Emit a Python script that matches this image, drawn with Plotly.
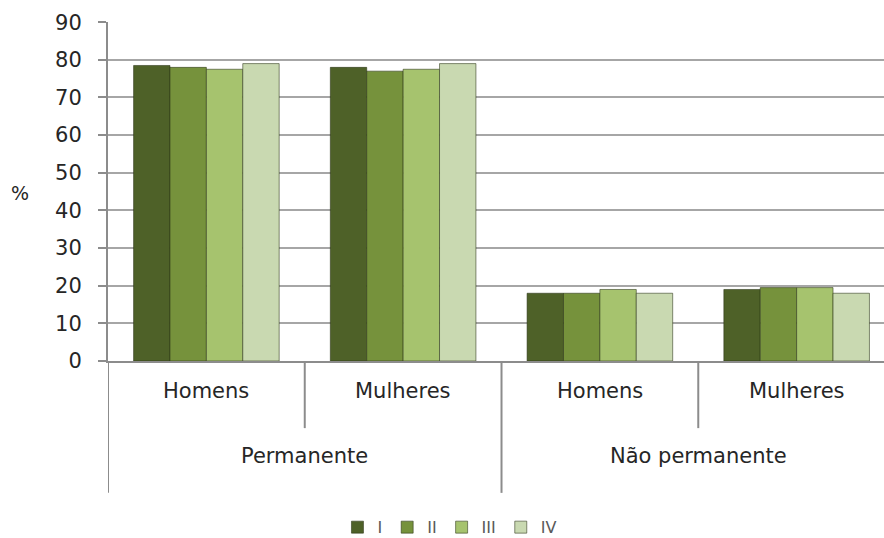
import plotly.graph_objects as go

outer_labels = ["Permanente", "Não permanente"]
inner_labels = ["Homens", "Mulheres", "Homens", "Mulheres"]
series_names = ["I", "II", "III", "IV"]
values_I = [78.5, 78.0, 18.0, 19.0]
values_II = [78.0, 77.0, 18.0, 19.5]
values_III = [77.5, 77.5, 19.0, 19.5]
values_IV = [79.0, 79.0, 18.0, 18.0]
y_ticks = [0, 10, 20, 30, 40, 50, 60, 70, 80, 90]

colors = ["#4e6128", "#76923c", "#a6c36e", "#c9d9b1"]
all_values = [values_I, values_II, values_III, values_IV]
xpos = list(range(len(inner_labels)))

fig = go.Figure()
for name, vals, col in zip(series_names, all_values, colors):
    fig.add_trace(go.Bar(
        x=xpos, y=vals, name=name,
        marker=dict(color=col, line=dict(color="rgba(40,50,20,0.55)", width=1)),
    ))

text_col = "#262626"
axis_col = "#8c8c8c"

fig.update_layout(
    width=884, height=538,
    margin=dict(l=108, r=0, t=22, b=177),
    plot_bgcolor="white", paper_bgcolor="white",
    barmode="group", bargap=0.26, bargroupgap=0,
    font=dict(family="DejaVu Sans", size=21, color=text_col),
    showlegend=True,
    legend=dict(orientation="h", xref="container", x=0.509, xanchor="center",
                yref="container", y=0.02, yanchor="middle",
                font=dict(size=16, color="#595959"),
                traceorder="normal"),
)
fig.update_yaxes(
    range=[0, 90.05], tickvals=y_ticks, showgrid=True, gridcolor="#a6a6a6", gridwidth=2,
    showline=True, linecolor=axis_col, linewidth=2, ticks="outside", ticklen=8,
    tickcolor=axis_col, tickwidth=2, zeroline=False, ticklabelstandoff=12,
)
fig.update_xaxes(
    range=[-0.5, 3.444], showticklabels=False, showgrid=False, zeroline=False,
    showline=True, linecolor=axis_col, linewidth=2,
)

# category labels
for i, lab in enumerate(inner_labels):
    fig.add_annotation(text=lab, x=i, xref="x", y=-0.13, yref="paper",
                       showarrow=False, font=dict(size=21, color=text_col))
for j, lab in enumerate(outer_labels):
    fig.add_annotation(text=lab, x=2 * j + 0.5, xref="x", y=-0.322, yref="paper",
                       showarrow=False, font=dict(size=21, color=text_col))
# dividers
for k in range(5):
    xb = k - 0.5
    y1 = -0.389 if k % 2 == 0 else -0.198
    if xb > 3.444:
        continue
    fig.add_shape(type="line", x0=xb, x1=xb, xref="x", y0=0, y1=y1, yref="paper",
                  line=dict(color=axis_col, width=2))

fig.add_annotation(text="%", xref="paper", yref="paper", x=-0.128, y=0.496,
                   showarrow=False, font=dict(size=19, color=text_col))

fig.write_html("out.html", config={"displayModeBar": False},
               post_script="document.body.style.margin='0';")
